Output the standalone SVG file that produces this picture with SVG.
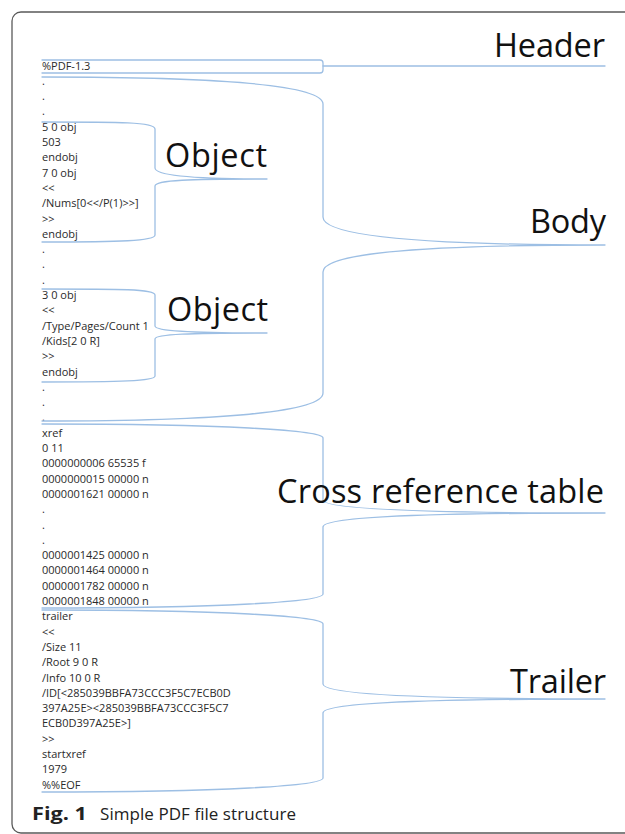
<svg xmlns="http://www.w3.org/2000/svg" width="625" height="834" viewBox="0 0 625 834">
  <style>
    .code { font-family: "Open Sans", "Liberation Sans", sans-serif; font-size: 11px; fill: #2a2a2a; }
    .label { font-family: "Open Sans", "Liberation Sans", sans-serif; font-size: 32.5px; fill: #111111; }
    .brace { fill: none; stroke: #9dbfe4; stroke-width: 1.3; stroke-linecap: round; stroke-linejoin: round; }
    .cap { font-family: "Open Sans", "Liberation Sans", sans-serif; font-size: 17px; fill: #222222; }
    .frame { fill: none; stroke: #5a5a5a; stroke-width: 1.3; }
  </style>

  <rect class="frame" x="12" y="12" width="650" height="821" rx="9"/>

  <!-- raw file listing -->
  <g id="listing">
    <text class="code" x="42" y="69.5">%PDF-1.3</text>
    <text class="code" x="42" y="84.8">.</text>
    <text class="code" x="42" y="100.1">.</text>
    <text class="code" x="42" y="115.4">.</text>
    <text class="code" x="42" y="130.7">5 0 obj</text>
    <text class="code" x="42" y="146.0">503</text>
    <text class="code" x="42" y="161.3">endobj</text>
    <text class="code" x="42" y="176.6">7 0 obj</text>
    <text class="code" x="42" y="191.9">&lt;&lt;</text>
    <text class="code" x="42" y="207.2">/Nums[0&lt;&lt;/P(1)&gt;&gt;]</text>
    <text class="code" x="42" y="222.5">&gt;&gt;</text>
    <text class="code" x="42" y="237.8">endobj</text>
    <text class="code" x="42" y="253.1">.</text>
    <text class="code" x="42" y="268.4">.</text>
    <text class="code" x="42" y="283.7">.</text>
    <text class="code" x="42" y="299.0">3 0 obj</text>
    <text class="code" x="42" y="314.3">&lt;&lt;</text>
    <text class="code" x="42" y="329.6">/Type/Pages/Count 1</text>
    <text class="code" x="42" y="344.9">/Kids[2 0 R]</text>
    <text class="code" x="42" y="360.2">&gt;&gt;</text>
    <text class="code" x="42" y="375.5">endobj</text>
    <text class="code" x="42" y="390.8">.</text>
    <text class="code" x="42" y="406.1">.</text>
    <text class="code" x="42" y="421.4">.</text>
    <text class="code" x="42" y="436.7">xref</text>
    <text class="code" x="42" y="452.0">0 11</text>
    <text class="code" x="42" y="467.3">0000000006 65535 f</text>
    <text class="code" x="42" y="482.6">0000000015 00000 n</text>
    <text class="code" x="42" y="497.9">0000001621 00000 n</text>
    <text class="code" x="42" y="513.2">.</text>
    <text class="code" x="42" y="528.5">.</text>
    <text class="code" x="42" y="543.8">.</text>
    <text class="code" x="42" y="559.1">0000001425 00000 n</text>
    <text class="code" x="42" y="574.4">0000001464 00000 n</text>
    <text class="code" x="42" y="589.7">0000001782 00000 n</text>
    <text class="code" x="42" y="605.0">0000001848 00000 n</text>
    <text class="code" x="42" y="620.3">trailer</text>
    <text class="code" x="42" y="635.6">&lt;&lt;</text>
    <text class="code" x="42" y="650.9">/Size 11</text>
    <text class="code" x="42" y="666.2">/Root 9 0 R</text>
    <text class="code" x="42" y="681.5">/Info 10 0 R</text>
    <text class="code" x="42" y="696.8">/ID[&lt;285039BBFA73CCC3F5C7ECB0D</text>
    <text class="code" x="42" y="712.1">397A25E&gt;&lt;285039BBFA73CCC3F5C7</text>
    <text class="code" x="42" y="727.4">ECB0D397A25E&gt;]</text>
    <text class="code" x="42" y="742.7">&gt;&gt;</text>
    <text class="code" x="42" y="758.0">startxref</text>
    <text class="code" x="42" y="773.3">1979</text>
    <text class="code" x="42" y="788.6">%%EOF</text>
  </g>

  <!-- braces grouping the sections -->
  <g id="braces">
    <path class="brace" d="M 42 60 H 320 Q 323 60 323 63 V 70 Q 323 73 320 73 H 42"/>
    <path class="brace" d="M 323 66 H 605"/>
    <path class="brace" d="M 42 77 C 220 77 323 85 323 104 V 217 C 323 234 400 245 605 245 C 400 245 323 255 323 272 V 393 C 323 412 220 421 42 421"/>
    <path class="brace" d="M 42 122 C 120 122 155 122 155 129 V 168 C 155 175 190 179 267 179 C 190 179 155 180 155 186 V 235 C 155 241 120 242 42 242"/>
    <path class="brace" d="M 42 289 C 120 289 155 289 155 295 V 326 C 155 331 190 333 267 333 C 190 333 155 334 155 339 V 376 C 155 381 120 382 42 382"/>
    <path class="brace" d="M 42 424 C 220 424 323 430 323 438 V 500 C 323 508 400 513 605 513 C 400 513 323 518 323 527 V 594 C 323 602 220 608 42 608"/>
    <path class="brace" d="M 42 610 C 220 610 323 616 323 624 V 684 C 323 693 400 699 605 699 C 400 699 323 704 323 713 V 778 C 323 786 220 792 42 792"/>
  </g>

  <g id="header"><text class="label" x="605" y="57" text-anchor="end" textLength="111">Header</text></g>
  <g id="body"><text class="label" x="606" y="233" text-anchor="end" textLength="76">Body</text></g>
  <g id="object-1"><text class="label" x="165" y="167" textLength="102">Object</text></g>
  <g id="object-2"><text class="label" x="167" y="321" textLength="101">Object</text></g>
  <g id="xref-table"><text class="label" x="604" y="503" text-anchor="end" textLength="327">Cross reference table</text></g>
  <g id="trailer"><text class="label" x="606" y="693" text-anchor="end" textLength="96">Trailer</text></g>

  <g id="caption">
    <text class="cap" x="32" y="820" font-size="19" font-weight="bold" textLength="55" lengthAdjust="spacingAndGlyphs">Fig. 1</text>
    <text class="cap" x="100" y="820" textLength="196">Simple PDF file structure</text>
  </g>
</svg>
